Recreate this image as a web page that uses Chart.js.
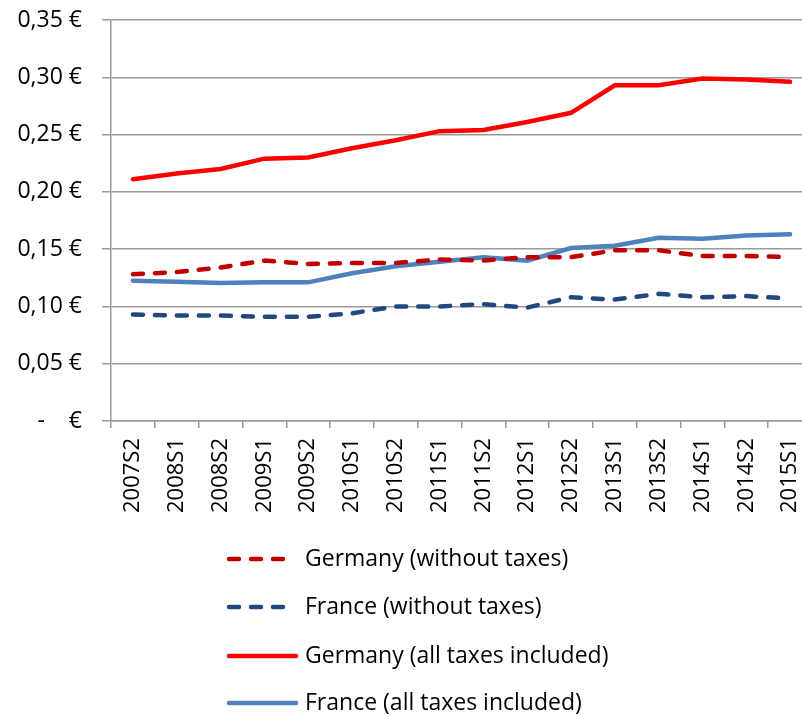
<!DOCTYPE html>
<html>
<head>
<meta charset="utf-8">
<script src="https://cdn.jsdelivr.net/npm/chart.js@4"></script>
<style>
  html, body { margin: 0; padding: 0; background: #fff; overflow: hidden; }
  #wrap { width: 802px; height: 715px; overflow: hidden; }
</style>
</head>
<body>
<div id="wrap"><canvas id="priceChart" width="815" height="715"></canvas></div>
<script>
// semesters on the x axis
const categories = ['2007S2', '2008S1', '2008S2', '2009S1', '2009S2', '2010S1', '2010S2', '2011S1',
                    '2011S2', '2012S1', '2012S2', '2013S1', '2013S2', '2014S1', '2014S2', '2015S1'];

// price per kWh, euros
const germanyNoTax = [0.128, 0.130, 0.134, 0.140, 0.137, 0.138, 0.138, 0.141, 0.140, 0.143, 0.143, 0.149, 0.149, 0.144, 0.144, 0.143];
const franceNoTax = [0.093, 0.092, 0.092, 0.091, 0.091, 0.094, 0.100, 0.100, 0.102, 0.099, 0.108, 0.106, 0.111, 0.108, 0.109, 0.107];
const germanyAllTax = [0.211, 0.216, 0.220, 0.229, 0.230, 0.238, 0.245, 0.253, 0.254, 0.261, 0.269, 0.293, 0.293, 0.299, 0.298, 0.296];
const franceAllTax = [0.1225, 0.1215, 0.1205, 0.121, 0.121, 0.129, 0.135, 0.139, 0.143, 0.140, 0.151, 0.153, 0.160, 0.159, 0.162, 0.163];

const seriesNames = ['Germany (without taxes)', 'France (without taxes)', 'Germany (all taxes included)', 'France (all taxes included)'];

const yTicks = [0, 0.05, 0.10, 0.15, 0.20, 0.25, 0.30, 0.35];

const FONT = '"Open Sans", sans-serif';
const GRID = '#9a9a9a';

// legend drawn by hand, one row per series
const stackedLegend = {
      id: 'stackedLegend',
      afterDraw(chart) {
            const ctx = chart.ctx;
            const rows = [559, 607, 656, 703];
            chart.data.datasets.forEach((ds, i) => {
                  const y = rows[i];
                  ctx.save();
                  ctx.strokeStyle = ds.borderColor;
                  ctx.lineWidth = ds.borderWidth;
                  ctx.lineCap = 'round';
                  ctx.setLineDash(ds.borderDash || []);
                  ctx.beginPath();
                  ctx.moveTo(229, y);
                  ctx.lineTo(ds.borderDash ? 292 : 296, y);
                  ctx.stroke();
                  ctx.setLineDash([]);
                  ctx.fillStyle = '#000';
                  ctx.font = '23px ' + FONT;
                  ctx.textBaseline = 'middle';
                  ctx.fillText(ds.label, 305, y);
                  ctx.restore();
            });
      }
};

const ctx = document.getElementById('priceChart').getContext('2d');

new Chart(ctx, {
      type: 'line',
      data: {
            labels: categories,
            datasets: [
                  {
                        label: seriesNames[0],
                        data: germanyNoTax,
                        borderColor: '#C00000',
                        borderWidth: 4.5,
                        borderDash: [10, 12],
                        borderCapStyle: 'round',
                        pointRadius: 0,
                        tension: 0
                  },
                  {
                        label: seriesNames[1],
                        data: franceNoTax,
                        borderColor: '#1F497D',
                        borderWidth: 4.5,
                        borderDash: [10, 12],
                        borderCapStyle: 'round',
                        pointRadius: 0,
                        tension: 0
                  },
                  {
                        label: seriesNames[2],
                        data: germanyAllTax,
                        borderColor: '#FF0000',
                        borderWidth: 4.5,
                        borderCapStyle: 'round',
                        pointRadius: 0,
                        tension: 0
                  },
                  {
                        label: seriesNames[3],
                        data: franceAllTax,
                        borderColor: '#4F81BD',
                        borderWidth: 4.5,
                        borderCapStyle: 'round',
                        pointRadius: 0,
                        tension: 0
                  }
            ]
      },
      options: {
            responsive: false,
            animation: false,
            layout: { padding: { top: 20, right: 3, left: 0, bottom: 0 } },
            scales: {
                  x: {
                        offset: true,
                        grid: { display: true, drawOnChartArea: false, offset: true, tickLength: 7, color: GRID, lineWidth: 1.5 },
                        border: { color: GRID, width: 1.5 },
                        ticks: {
                              autoSkip: false,
                              minRotation: 90,
                              maxRotation: 90,
                              padding: 10,
                              color: '#000',
                              font: { family: FONT, size: 22 }
                        },
                        afterFit: (scale) => {
                              scale.height = 294;
                              scale.paddingLeft = 0;
                              scale.paddingRight = 0;
                        }
                  },
                  y: {
                        min: 0,
                        max: 0.35,
                        afterBuildTicks: (scale) => { scale.ticks = yTicks.map(v => ({ value: v })); },
                        grid: { color: GRID, lineWidth: 1.5, tickLength: 9 },
                        border: { color: GRID, width: 1.5 },
                        ticks: {
                              padding: 20,
                              color: '#000',
                              font: { family: FONT, size: 23 }
                              ,
                              callback: (v) => v === 0 ? '-    €' : v.toFixed(2).replace('.', ',') + ' €'
                        },
                        afterFit: (scale) => {
                              scale.width = 111;
                              scale.paddingTop = 0;
                              scale.paddingBottom = 0;
                        }
                  }
            },
            plugins: {
                  legend: { display: false },
                  tooltip: { enabled: false }
            }
      },
      plugins: [stackedLegend]
});
</script>
</body>
</html>
